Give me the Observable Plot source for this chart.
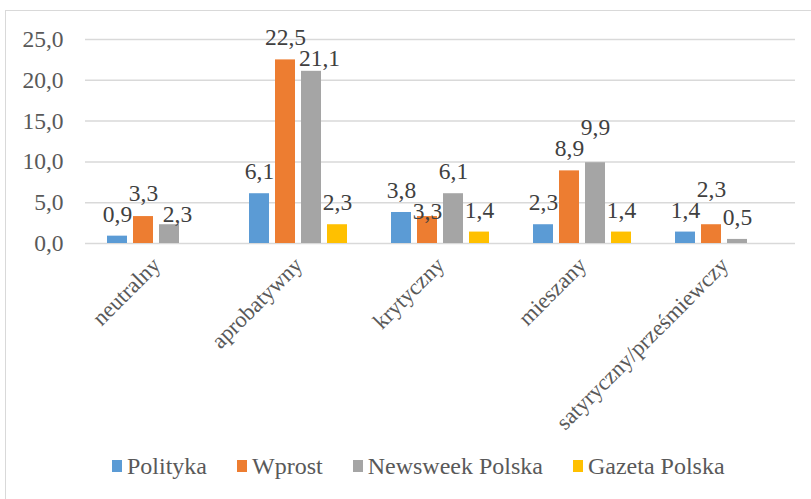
<!DOCTYPE html>
<html>
<head>
<meta charset="utf-8">
<script src="https://cdn.jsdelivr.net/npm/d3@7"></script>
<script src="https://cdn.jsdelivr.net/npm/@observablehq/plot@0.6"></script>
<style>
  html, body { margin: 0; padding: 0; background: #fff; font-family: "Liberation Serif", "Times New Roman", serif; }
  #wrap { position: relative; width: 811px; height: 499px; overflow: hidden; font-family: "Liberation Serif", "Times New Roman", serif; }
  #frame { position: absolute; left: 5px; top: 10px; width: 830px; height: 520px; border: 1.5px solid #d9d9d9; box-sizing: border-box; }
  #chart { position: absolute; left: 0; top: 0; }
  #legend { position: absolute; left: 112px; top: 451px; display: flex; gap: 30px; font-size: 24px; color: #595959; line-height: 30px; }
  .item { display: flex; align-items: center; }
  .sw { width: 10px; height: 12px; margin-right: 5px; }
</style>
</head>
<body>
<div id="wrap">
  <div id="frame"></div>
  <div id="chart"></div>
  <div id="legend"></div>
</div>
<script>
const categories = ["neutralny", "aprobatywny", "krytyczny", "mieszany", "satyryczny/prześmiewczy"];
const seriesNames = ["Polityka", "Wprost", "Newsweek Polska", "Gazeta Polska"];
const colors = ["#5B9BD5", "#ED7D31", "#A5A5A5", "#FFC000"];
const polityka = [0.9, 6.1, 3.8, 2.3, 1.4];
const wprost = [3.3, 22.5, 3.3, 8.9, 2.3];
const newsweek = [2.3, 21.1, 6.1, 9.9, 0.5];
const gazeta = [null, 2.3, 1.4, 1.4, null];
const yTicks = [0, 5, 10, 15, 20, 25];

const seriesValues = [polityka, wprost, newsweek, gazeta];
const fmt = v => v.toFixed(1).replace(".", ",");

// plot geometry (styling)
const W = 811, H = 440, mT = 39, mB = 197, mL = 85, mR = 16;
const yMax = 25;
const pxPerUnit = (H - mT - mB) / yMax;
const fs = 23.5;

// Layout of bars inside each category band (styling only)
const bandW = (W - mL - mR) / categories.length, barW = 20, gap = 6;
const groupW = 4 * barW + 3 * gap;
const startOff = (bandW - groupW) / 2;

// Label placement: above bar, with simple collision avoidance (like Excel's)
const labelLift = 22, minSep = 21;
const labelPos = seriesValues.map(() => []);
const labelPushed = seriesValues.map(() => []);
categories.forEach((c, j) => {
  let prev = null;
  seriesValues.forEach((vals, i) => {
    const v = vals[j];
    labelPushed[i][j] = false;
    if (v == null) { labelPos[i][j] = null; return; }
    let px = v * pxPerUnit + labelLift;
    if (prev && Math.abs(px - prev.px) < minSep) {
      if (v > prev.value) px = prev.px + minSep;
      else {
        px = prev.px - minSep;
        const next = i + 1 < seriesValues.length ? seriesValues[i + 1][j] : null;
        labelPushed[i][j] = next == null || next * pxPerUnit < px - 12;
      }
    }
    labelPos[i][j] = px / pxPerUnit;
    prev = {px, value: v};
  });
});

const marks = [
  Plot.gridY(yTicks, {stroke: "#d9d9d9", strokeOpacity: 1, strokeWidth: 1.5}),
  Plot.axisY({ticks: yTicks, tickFormat: fmt, tickSize: 0, tickPadding: 22, fontSize: fs, fill: "#595959", label: null}),
  Plot.axisX({tickSize: 0, tickRotate: -45, tickPadding: 18, fontSize: 22.5, fill: "#595959", label: null})
];

seriesValues.forEach((vals, i) => {
  const data = categories.map((c, j) => ({cat: c, value: vals[j], ly: labelPos[i][j], pushed: labelPushed[i][j]})).filter(d => d.value != null);
  const left = startOff + i * (barW + gap);
  const right = bandW - left - barW;
  const center = left + barW / 2 - bandW / 2;
  marks.push(Plot.barY(data, {x: "cat", y: "value", fill: colors[i], insetLeft: left, insetRight: right}));
  marks.push(Plot.text(data.filter(d => !d.pushed), {x: "cat", y: "ly", text: d => fmt(d.value), dx: center, lineAnchor: "middle", fontSize: fs, fill: "#404040"}));
  marks.push(Plot.text(data.filter(d => d.pushed), {x: "cat", y: "ly", text: d => fmt(d.value), dx: center + 8, lineAnchor: "middle", fontSize: fs, fill: "#404040"}));
});

const chart = Plot.plot({
  width: W,
  height: H,
  marginTop: mT,
  marginBottom: mB,
  marginLeft: mL,
  marginRight: mR,
  style: {fontFamily: "'Liberation Serif', 'Times New Roman', serif", background: "transparent", overflow: "visible"},
  x: {type: "band", domain: categories, padding: 0},
  y: {domain: [0, yMax]},
  marks
});
document.getElementById("chart").appendChild(chart);

const legend = document.getElementById("legend");
seriesNames.forEach((name, i) => {
  const it = document.createElement("div");
  it.className = "item";
  const sw = document.createElement("span");
  sw.className = "sw";
  sw.style.background = colors[i];
  const tx = document.createElement("span");
  tx.textContent = name;
  it.appendChild(sw); it.appendChild(tx);
  legend.appendChild(it);
});
</script>
</body>
</html>
